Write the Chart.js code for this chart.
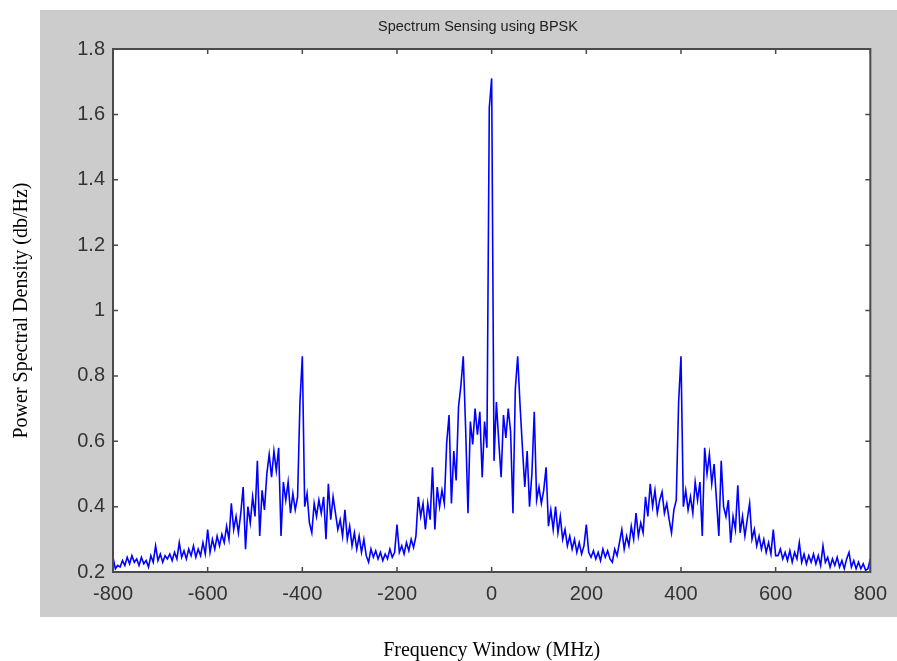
<!DOCTYPE html>
<html>
<head>
<meta charset="utf-8">
<title>Spectrum Sensing using BPSK</title>
<script src="https://cdn.jsdelivr.net/npm/chart.js@4.4.0/dist/chart.umd.min.js"></script>
<style>
  html, body { margin: 0; padding: 0; background: #fff; }
  #wrap { width: 897px; height: 661px; }
</style>
</head>
<body>
<div id="wrap"><canvas id="psdChart" width="897" height="661"></canvas></div>
<script>
// frequency axis runs -800..800 MHz, one sample every 5 MHz
const freqStart = -800;
const freqStep = 5;

const chartTitle = "Spectrum Sensing using BPSK";
const xTicks = [-800, -600, -400, -200, 0, 200, 400, 600, 800];
const yTicks = [0.2, 0.4, 0.6, 0.8, 1, 1.2, 1.4, 1.6, 1.8];

// power spectral density, in 200 MHz blocks
const psdA = [ // -800 .. -605
  0.245, 0.21, 0.22, 0.215, 0.235, 0.22, 0.245, 0.225, 0.25, 0.23,
  0.24, 0.22, 0.245, 0.225, 0.235, 0.215, 0.25, 0.23, 0.28, 0.235,
  0.255, 0.23, 0.25, 0.24, 0.255, 0.235, 0.26, 0.24, 0.29, 0.245,
  0.265, 0.24, 0.27, 0.25, 0.28, 0.245, 0.27, 0.25, 0.29, 0.255
];
const psdB = [ // -600 .. -405
  0.33, 0.26, 0.3, 0.27, 0.31, 0.28, 0.315, 0.29, 0.34, 0.3,
  0.41, 0.33, 0.37, 0.32, 0.38, 0.46, 0.27, 0.4, 0.35, 0.43,
  0.37, 0.54, 0.31, 0.45, 0.39, 0.5, 0.56, 0.49, 0.57, 0.51,
  0.58, 0.31, 0.475, 0.42, 0.475, 0.38, 0.44, 0.39, 0.43, 0.72
];
const psdC = [ // -400 .. -205
  0.86, 0.4, 0.44, 0.35, 0.32, 0.41, 0.37, 0.42, 0.38, 0.43,
  0.3, 0.47, 0.36, 0.43, 0.38, 0.33, 0.36, 0.31, 0.39, 0.3,
  0.34, 0.28, 0.32, 0.27, 0.31, 0.26, 0.3, 0.25, 0.23, 0.27,
  0.245, 0.265, 0.24, 0.26, 0.235, 0.255, 0.24, 0.27, 0.245, 0.26
];
const psdD = [ // -200 .. -5
  0.345, 0.26, 0.28, 0.255, 0.29, 0.265, 0.3, 0.275, 0.31, 0.43,
  0.37, 0.41, 0.33, 0.41, 0.36, 0.52, 0.33, 0.46, 0.4, 0.45,
  0.41, 0.595, 0.68, 0.41, 0.57, 0.48, 0.705, 0.77, 0.86, 0.64,
  0.38, 0.66, 0.59, 0.7, 0.62, 0.69, 0.49, 0.66, 0.58, 1.62
];
const psdCenter = [1.71]; // 0 MHz
const psdE = [ // 5 .. 200
  0.54, 0.72, 0.6, 0.49, 0.68, 0.61, 0.7, 0.63, 0.38, 0.76,
  0.86, 0.71, 0.58, 0.46, 0.57, 0.4, 0.5, 0.69, 0.42, 0.46,
  0.41, 0.45, 0.52, 0.34, 0.39, 0.33, 0.4, 0.32, 0.37, 0.3,
  0.33, 0.28, 0.31, 0.27, 0.3, 0.26, 0.29, 0.255, 0.28, 0.345
];
const psdF = [ // 205 .. 400
  0.26, 0.245, 0.265, 0.24, 0.26, 0.235, 0.27, 0.245, 0.265, 0.24,
  0.23, 0.27, 0.25, 0.29, 0.33, 0.27, 0.31, 0.28, 0.34, 0.3,
  0.38, 0.31, 0.35, 0.32, 0.43, 0.37, 0.47, 0.4, 0.45, 0.38,
  0.42, 0.445, 0.38, 0.41, 0.36, 0.32, 0.39, 0.42, 0.72, 0.86
];
const psdG = [ // 405 .. 600
  0.4, 0.45, 0.39, 0.43, 0.38, 0.475, 0.42, 0.475, 0.31, 0.58,
  0.5, 0.56, 0.47, 0.53, 0.42, 0.31, 0.54, 0.4, 0.37, 0.42,
  0.29, 0.37, 0.33, 0.465, 0.32, 0.37, 0.31, 0.36, 0.41, 0.3,
  0.33, 0.28, 0.31, 0.27, 0.3, 0.26, 0.29, 0.255, 0.33, 0.25
];
const psdH = [ // 605 .. 800
  0.25, 0.27, 0.24, 0.26, 0.235, 0.265, 0.23, 0.26, 0.24, 0.29,
  0.23, 0.255, 0.225, 0.25, 0.23, 0.255, 0.225, 0.25, 0.22, 0.28,
  0.23, 0.245, 0.215, 0.24, 0.22, 0.245, 0.215, 0.235, 0.21, 0.24,
  0.26, 0.215, 0.235, 0.21, 0.23, 0.21, 0.225, 0.205, 0.21, 0.24
];

const psd = [].concat(psdA, psdB, psdC, psdD, psdCenter, psdE, psdF, psdG, psdH);
const points = psd.map((v, i) => ({ x: freqStart + i * freqStep, y: v }));

// grey figure background + white axes box
const figureBackground = {
  id: "figureBackground",
  beforeDraw(chart) {
    const ctx = chart.ctx;
    const area = chart.chartArea;
    ctx.save();
    ctx.fillStyle = "#ffffff";
    ctx.fillRect(0, 0, chart.width, chart.height);
    ctx.fillStyle = "#cccccc";
    ctx.fillRect(40, 10, chart.width - 40, 607);
    ctx.fillStyle = "#ffffff";
    ctx.fillRect(area.left, area.top, area.right - area.left, area.bottom - area.top);
    // title sits a bit left of the axes centre in the original
    ctx.fillStyle = "#222";
    ctx.font = "14.5px 'Liberation Sans', Arial, sans-serif";
    ctx.textAlign = "center";
    ctx.textBaseline = "middle";
    ctx.fillText(chartTitle, 478, 27);
    ctx.restore();
  }
};

// matlab style box with ticks pointing inwards on all four sides
const axesBox = {
  id: "axesBox",
  afterDraw(chart) {
    const ctx = chart.ctx;
    const a = chart.chartArea;
    const xs = chart.scales.x;
    const ys = chart.scales.y;
    const len = 5;
    ctx.save();
    ctx.strokeStyle = "#4a4a4a";
    ctx.lineWidth = 1.5;
    ctx.beginPath();
    xTicks.forEach(t => {
      const px = xs.getPixelForValue(t);
      ctx.moveTo(px, a.bottom);
      ctx.lineTo(px, a.bottom - len);
      ctx.moveTo(px, a.top);
      ctx.lineTo(px, a.top + len);
    });
    yTicks.forEach(t => {
      const py = ys.getPixelForValue(t);
      ctx.moveTo(a.left, py);
      ctx.lineTo(a.left + len, py);
      ctx.moveTo(a.right, py);
      ctx.lineTo(a.right - len, py);
    });
    ctx.stroke();
    ctx.lineWidth = 2;
    ctx.strokeRect(a.left, a.top, a.right - a.left, a.bottom - a.top);
    ctx.restore();
  }
};

const ctx = document.getElementById("psdChart").getContext("2d");

new Chart(ctx, {
  type: "line",
  data: {
    datasets: [{
      label: "PSD",
      data: points,
      borderColor: "#0000ff",
      borderWidth: 1.6,
      pointRadius: 0,
      fill: false,
      tension: 0
    }]
  },
  options: {
    responsive: false,
    animation: false,
    layout: { padding: { left: 8, right: 25, top: 49, bottom: 0 } },
    plugins: {
      legend: { display: false },
      tooltip: { enabled: false },
      title: { display: false }
    },
    scales: {
      x: {
        type: "linear",
        min: -800,
        max: 800,
        afterBuildTicks(scale) { scale.ticks = xTicks.map(v => ({ value: v })); },
        afterFit(scale) { scale.height = 89; },
        grid: { display: false, drawTicks: false },
        border: { display: false },
        ticks: {
          padding: 10,
          color: "#333",
          font: { family: "Liberation Sans, Arial, sans-serif", size: 20 }
        },
        title: {
          display: true,
          text: "Frequency Window (MHz)",
          color: "#000",
          font: { family: "Liberation Serif, Times New Roman, serif", size: 20, lineHeight: 1 },
          padding: { top: 0, bottom: 0 }
        }
      },
      y: {
        min: 0.2,
        max: 1.8,
        afterBuildTicks(scale) { scale.ticks = yTicks.map(v => ({ value: v })); },
        afterFit(scale) { scale.width = 105; },
        grid: { display: false, drawTicks: false },
        border: { display: false },
        ticks: {
          padding: 8,
          color: "#333",
          font: { family: "Liberation Sans, Arial, sans-serif", size: 20 },
          callback: v => String(Math.round(v * 10) / 10)
        },
        title: {
          display: true,
          text: "Power Spectral Density (db/Hz)",
          color: "#000",
          font: { family: "Liberation Serif, Times New Roman, serif", size: 20, lineHeight: 1 },
          padding: { top: 4, bottom: 0 }
        }
      }
    }
  },
  plugins: [figureBackground, axesBox]
});
</script>
</body>
</html>
